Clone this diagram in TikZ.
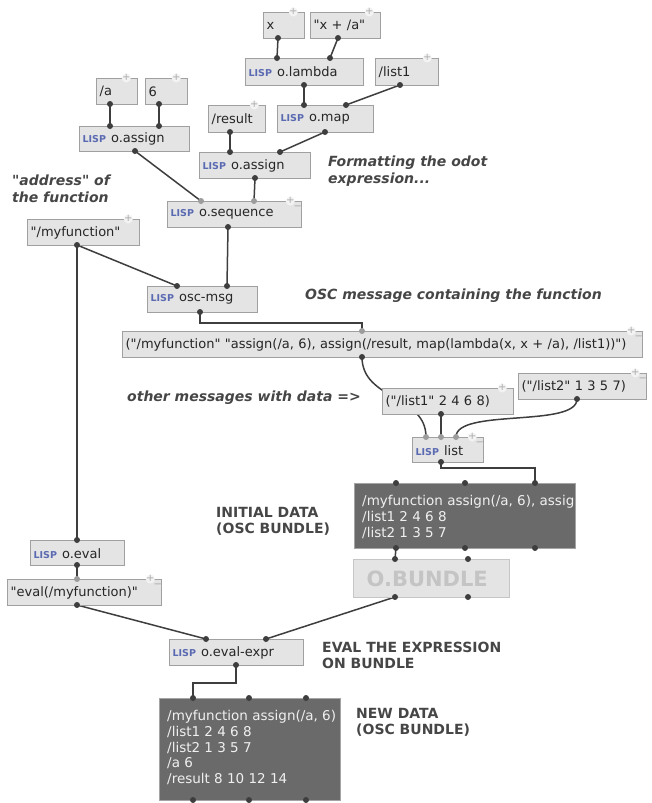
\documentclass[tikz,border=0pt]{standalone}
\usepackage{fontspec}
\setmainfont{DejaVu Sans}[Ligatures=TeXOff]
\usepackage{xcolor}
\usetikzlibrary{calc}

\definecolor{boxfill}{HTML}{E4E4E4}
\definecolor{boxline}{HTML}{A0A0A0}
\definecolor{wirecol}{HTML}{3E3E3E}
\definecolor{portgrey}{HTML}{9C9C9C}
\definecolor{lispblue}{HTML}{5A6AB2}
\definecolor{darkfill}{HTML}{6A6A6A}
\definecolor{darkline}{HTML}{A4A4A4}
\definecolor{notecol}{HTML}{464646}
\definecolor{bundletext}{HTML}{C4C4C4}

\newcommand{\lisptag}{{\color{lispblue}\fontsize{9.5}{10}\selectfont\bfseries LISP}\hspace{5pt}}

\pgfdeclarelayer{wires}
\pgfsetlayers{wires,main}

\begin{document}
\begin{tikzpicture}[
    x=1pt, y=-1pt,
    obox/.style={draw=boxline, fill=boxfill, line width=1.3pt, anchor=north west, inner xsep=3pt, inner ysep=0pt, minimum height=26pt, align=left, text=black!85, font=\fontsize{13}{15}\selectfont},
    bundlebox/.style={obox, draw=boxline!60, inner xsep=13pt, text=bundletext, font=\fontsize{21}{24}\selectfont\bfseries},
    dbox/.style={draw=darkline, fill=darkfill, line width=1.3pt, anchor=north west, inner sep=0pt},
    dtext/.style={anchor=north west, inner sep=0pt, align=left, text=white!94!black, font=\fontsize{13.5}{15.8}\selectfont},
    note/.style={anchor=north west, inner sep=0pt, align=left, text=notecol, font=\fontsize{14}{17}\selectfont\bfseries\itshape},
    caps/.style={note, font=\fontsize{14}{16}\selectfont\bfseries},
    wire/.style={draw=wirecol, line width=1.5pt},
    iconbg/.style={fill=white!55!boxfill},
    plusicon/.style={inner sep=0pt, text=portgrey!85, font=\fontsize{10}{10}\selectfont}
]
\useasboundingbox (0,0) rectangle (651,803);

\node[obox, text width=35pt] (xsym) at (263,12) {x};
\node[obox, text width=64pt] (xexpr) at (310,12) {"x + /a"};
\node[obox, text width=112pt, minimum height=27pt] (lambda) at (245,58) {\lisptag o.lambda};
\node[obox, text width=57pt, minimum height=27pt] (listsym) at (375,58) {/list1};
\node[obox, text width=90pt, minimum height=27pt] (map) at (277,105) {\lisptag o.map};
\node[obox, text width=51pt, minimum height=27pt] (result) at (208,105) {/result};
\node[obox, text width=35pt] (asym) at (96,78) {/a};
\node[obox, text width=36pt] (six) at (145,78) {6};
\node[obox, text width=104pt, minimum height=25pt] (assigna) at (79,126) {\lisptag o.assign};
\node[obox, text width=105pt] (assignb) at (199,152) {\lisptag o.assign};
\node[obox, text width=128pt] (seq) at (167,201) {\lisptag o.sequence};
\node[obox, text width=106pt] (addr) at (27,219) {"/myfunction"};
\node[obox, text width=104pt] (oscmsg) at (147,286) {\lisptag osc-msg};
\node[obox, text width=514pt] (msg) at (122,331) {("/myfunction" "assign(/a, 6), assign(/result, map(lambda(x, x + /a), /list1))")};
\node[obox, text width=125pt] (lonemsg) at (382,388) {("/list1" 2 4 6 8)};
\node[obox, text width=122pt] (ltwomsg) at (518,373) {("/list2" 1 3 5 7)};
\node[obox, text width=65pt, minimum height=25pt] (listfn) at (412,437) {\lisptag list};
\node[dbox, minimum width=221pt, minimum height=65pt] (initdata) at (354,483) {};
\node[bundlebox, text width=130pt, minimum height=38pt] (bundle) at (353,559) {O.BUNDLE};
\node[obox, text width=88pt, minimum height=25pt] (oeval) at (30,540) {\lisptag o.eval};
\node[obox, text width=148pt] (evalmsg) at (7,579) {"eval(/myfunction)"};
\node[obox, text width=128pt] (evalexpr) at (169,639) {\lisptag o.eval-expr};
\node[dbox, minimum width=181pt, minimum height=102pt] (newdata) at (159,698) {};

\begin{scope}
    \clip (initdata.north west) rectangle (initdata.south east);
    \node[dtext] (initdata-txt) at (362,495) {/myfunction assign(/a, 6), assig\\/list1 2 4 6 8\\/list2 1 3 5 7};
\end{scope}
\begin{scope}
    \clip (newdata.north west) rectangle (newdata.south east);
    \node[dtext] (newdata-txt) at (167,710) {/myfunction assign(/a, 6)\\/list1 2 4 6 8\\/list2 1 3 5 7\\/a 6\\/result 8 10 12 14};
\end{scope}

\foreach \n in {xsym,xexpr,listsym,result,asym,six,addr,msg,lonemsg,ltwomsg,listfn,seq,evalmsg} {
    \fill[iconbg] ($(\n.north east)+(-12,0)$) circle (4.5pt);
    \node[plusicon] at ($(\n.north east)+(-12,-0.5)$) {+};
}
\foreach \n in {msg,ltwomsg,listfn,seq,evalmsg} {
    \fill[boxfill] ($(\n.north east)+(-4.5,7)$) circle (3.5pt);
    \node[plusicon] at ($(\n.north east)+(-4.5,7)$) {\char"2212};
}

\node[note] (addrnote) at (12,175) {"address" of\\the function};
\node[note] (fmtnote) at (328,156) {Formatting the odot\\expression...};
\node[note] (oscnote) at (305,289) {OSC message containing the function};
\node[note] (othernote) at (127,391) {other messages with data =>};
\node[caps] (initnote) at (216,507) {INITIAL DATA\\(OSC BUNDLE)};
\node[caps] (evalnote) at (322,642) {EVAL THE EXPRESSION\\ON BUNDLE};
\node[caps] (newnote) at (356,708) {NEW DATA\\(OSC BUNDLE)};

\coordinate (xsym-o) at (278,38);
\coordinate (xexpr-o) at (338,38);
\coordinate (lambda-i1) at (277,58);
\coordinate (lambda-i2) at (330,58);
\coordinate (lambda-o) at (304,85);
\coordinate (listsym-o) at (400,85);
\coordinate (map-i1) at (304,105);
\coordinate (map-i2) at (346,105);
\coordinate (map-o) at (325,132);
\coordinate (result-o) at (230,132);
\coordinate (asym-o) at (110,104);
\coordinate (six-o) at (159,104);
\coordinate (assigna-i1) at (110,126);
\coordinate (assigna-i2) at (159,126);
\coordinate (assigna-o) at (135,151);
\coordinate (assignb-i1) at (230,152);
\coordinate (assignb-i2) at (280,152);
\coordinate (assignb-o) at (255,178);
\coordinate (seq-i1) at (201,201);
\coordinate (seq-i2) at (254,201);
\coordinate (seq-o) at (228,227);
\coordinate (addr-o) at (77,245);
\coordinate (oscmsg-i1) at (177,286);
\coordinate (oscmsg-i2) at (227,286);
\coordinate (oscmsg-o) at (200,312);
\coordinate (msg-i) at (362,331);
\coordinate (msg-o) at (362,357);
\coordinate (lonemsg-o) at (441,414);
\coordinate (ltwomsg-o) at (577,399);
\coordinate (listfn-i1) at (426,437);
\coordinate (listfn-i2) at (441,437);
\coordinate (listfn-i3) at (456,437);
\coordinate (listfn-o) at (441,462);
\coordinate (initdata-i1) at (396,483);
\coordinate (initdata-i2) at (465,483);
\coordinate (initdata-i3) at (535,483);
\coordinate (initdata-o1) at (396,548);
\coordinate (initdata-o2) at (465,548);
\coordinate (initdata-o3) at (535,548);
\coordinate (bundle-i1) at (395,559);
\coordinate (bundle-i2) at (468,559);
\coordinate (bundle-o1) at (395,597);
\coordinate (bundle-o2) at (468,597);
\coordinate (oeval-i) at (77,540);
\coordinate (oeval-o) at (77,565);
\coordinate (evalmsg-i) at (77,579);
\coordinate (evalmsg-o) at (77,605);
\coordinate (evalexpr-i1) at (206,639);
\coordinate (evalexpr-i2) at (266,639);
\coordinate (evalexpr-o) at (236,665);
\coordinate (newdata-i1) at (193,698);
\coordinate (newdata-i2) at (249,698);
\coordinate (newdata-i3) at (306,698);
\coordinate (newdata-o1) at (193,800);
\coordinate (newdata-o2) at (249,800);
\coordinate (newdata-o3) at (306,800);

\begin{pgfonlayer}{wires}
    \draw[wire] (xsym-o) -- (lambda-i1);
    \draw[wire] (xexpr-o) -- (lambda-i2);
    \draw[wire] (lambda-o) -- (map-i1);
    \draw[wire] (listsym-o) -- (map-i2);
    \draw[wire] (map-o) -- (assignb-i2);
    \draw[wire] (result-o) -- (assignb-i1);
    \draw[wire] (asym-o) -- (assigna-i1);
    \draw[wire] (six-o) -- (assigna-i2);
    \draw[wire] (assigna-o) -- (seq-i1);
    \draw[wire] (assignb-o) -- (seq-i2);
    \draw[wire] (seq-o) -- (oscmsg-i2);
    \draw[wire] (addr-o) -- (oscmsg-i1);
    \draw[wire] (addr-o) -- (oeval-i);
    \draw[wire] (oscmsg-o) -- ++(0,11) -| (msg-i);
    \draw[wire] (msg-o) .. controls (362,400) and (426,395) .. (listfn-i1);
    \draw[wire] (lonemsg-o) -- (listfn-i2);
    \draw[wire] (ltwomsg-o) .. controls (577,428) and (456,408) .. (listfn-i3);
    \draw[wire] (listfn-o) -- ++(0,6) -| (initdata-i3);
    \draw[wire] (initdata-o1) -- (bundle-i1);
    \draw[wire] (bundle-o1) -- (evalexpr-i2);
    \draw[wire] (oeval-o) -- (evalmsg-i);
    \draw[wire] (evalmsg-o) -- (evalexpr-i1);
    \draw[wire] (evalexpr-o) -- ++(0,18) -| (newdata-i1);
\end{pgfonlayer}

\foreach \p in {xsym-o,xexpr-o,lambda-i1,lambda-i2,lambda-o,listsym-o,map-i1,map-i2,map-o,result-o,asym-o,six-o,assigna-i1,assigna-i2,assigna-o,assignb-i1,assignb-i2,assignb-o,seq-o,addr-o,oscmsg-i1,oscmsg-i2,oscmsg-o,msg-o,lonemsg-o,ltwomsg-o,listfn-o,initdata-i1,initdata-i2,initdata-i3,initdata-o1,initdata-o2,initdata-o3,bundle-i1,bundle-i2,bundle-o1,bundle-o2,oeval-i,oeval-o,evalmsg-o,evalexpr-i1,evalexpr-i2,evalexpr-o,newdata-i1,newdata-i2,newdata-i3,newdata-o1,newdata-o2,newdata-o3}
    \fill[wirecol] (\p) circle (3pt);
\foreach \p in {seq-i1,seq-i2,msg-i,listfn-i1,listfn-i2,listfn-i3,evalmsg-i}
    \fill[portgrey] (\p) circle (3pt);
\end{tikzpicture}
\end{document}
